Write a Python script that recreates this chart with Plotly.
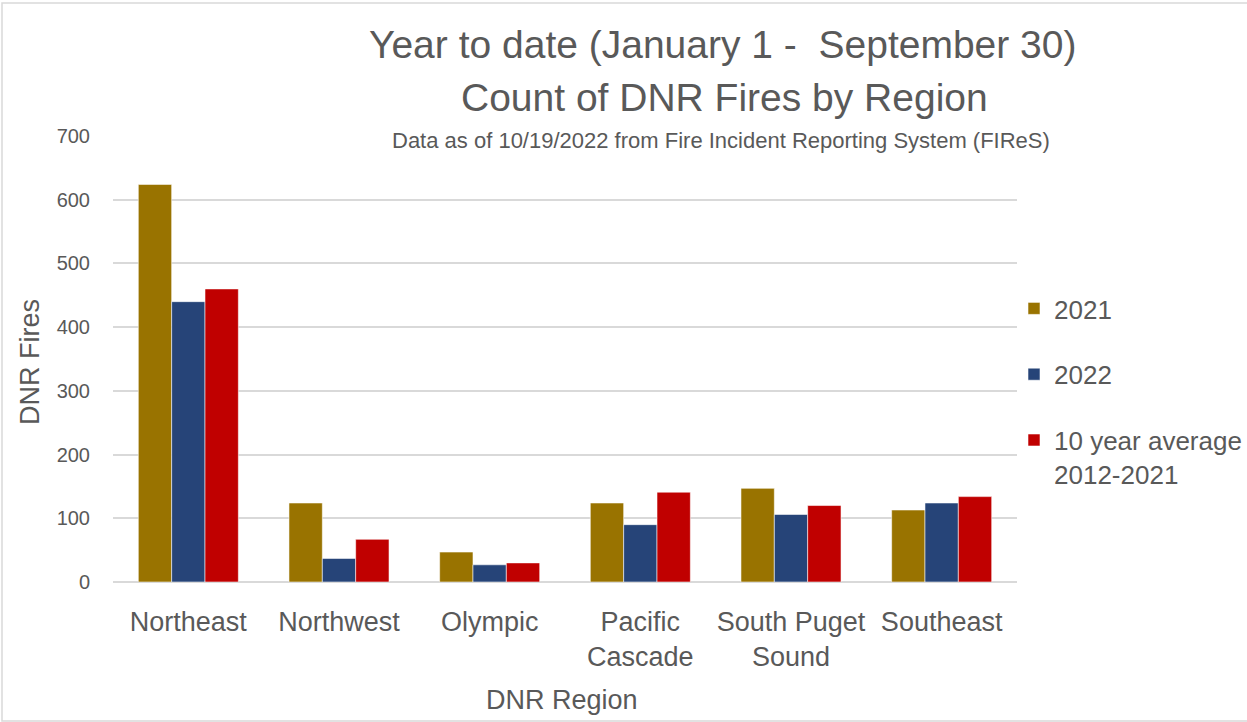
import plotly.graph_objects as go

regions = ["Northeast", "Northwest", "Olympic", "Pacific<br>Cascade", "South Puget<br>Sound", "Southeast"]
series_names = ["2021", "2022", "10 year average<br>2012-2021"]
vals_2021 = [624, 124, 47, 124, 147, 113]
vals_2022 = [440, 37, 27, 90, 106, 124]
vals_avg = [460, 67, 30, 141, 120, 134]
colors = ["#997300", "#264478", "#C00000"]
y_ticks = [0, 100, 200, 300, 400, 500, 600, 700]

FONT = "Liberation Sans, Arial, sans-serif"
TXT = "#595959"

W, H = 1247, 722
L, R, T, B = 113, 230, 136, 140
PW, PH = W - L - R, H - T - B

def px(x):
    return (x - L) / PW

def py(y):
    return (H - B - y) / PH

fig = go.Figure()
for name, vals, col, grp in zip(series_names, [vals_2021, vals_2022, vals_avg], colors, ["a", "b", "c"]):
    fig.add_trace(go.Bar(
        x=regions, y=vals, name=name, legendgroup=grp,
        marker=dict(color=col, line=dict(color="rgba(255,255,255,0.55)", width=1)),
    ))

fig.update_layout(
    width=W, height=H,
    margin=dict(l=L, r=R, t=T, b=B, autoexpand=False),
    paper_bgcolor="white", plot_bgcolor="white",
    barmode="group", bargap=0.336, bargroupgap=0,
    font=dict(family=FONT, color=TXT),
    showlegend=True,
    legend=dict(
        x=px(1014), y=py(285), xanchor="left", yanchor="top",
        font=dict(family=FONT, size=26, color=TXT),
        tracegroupgap=29, valign="top", bgcolor="rgba(0,0,0,0)",
    ),
    xaxis=dict(
        showgrid=False, zeroline=False, showline=False, ticks="", tickangle=0,
        tickfont=dict(family=FONT, size=27, color=TXT), ticklabelstandoff=21,
    ),
    yaxis=dict(
        range=[0, 700], tickvals=y_ticks, showgrid=True, gridcolor="#d9d9d9", gridwidth=1.5,
        zeroline=True, zerolinecolor="#d9d9d9", zerolinewidth=2, showline=False, ticks="",
        tickfont=dict(family=FONT, size=20, color=TXT), ticklabelstandoff=22,
    ),
    shapes=[
        dict(type="rect", xref="paper", yref="paper", x0=px(392), x1=px(1030), y0=py(148), y1=py(127),
             fillcolor="white", line=dict(width=0), layer="above"),
        dict(type="rect", xref="paper", yref="paper", x0=px(2), x1=px(1250), y0=py(721), y1=py(3),
             fillcolor="rgba(0,0,0,0)", line=dict(color="#d9d9d9", width=1.5), layer="above"),
    ],
    annotations=[
        dict(text="Year to date (January 1 -  September 30)", x=px(722), y=py(45), xref="paper", yref="paper",
             xanchor="center", yanchor="middle", showarrow=False, font=dict(family=FONT, size=39, color=TXT)),
        dict(text="Count of DNR Fires by Region", x=px(724), y=py(98), xref="paper", yref="paper",
             xanchor="center", yanchor="middle", showarrow=False, font=dict(family=FONT, size=39, color=TXT)),
        dict(text="Data as of 10/19/2022 from Fire Incident Reporting System (FIReS)", x=px(721), y=py(140),
             xref="paper", yref="paper", xanchor="center", yanchor="middle", showarrow=False,
             font=dict(family=FONT, size=22, color=TXT)),
        dict(text="DNR Fires", x=px(30), y=py(362), xref="paper", yref="paper", textangle=-90,
             xanchor="center", yanchor="middle", showarrow=False, font=dict(family=FONT, size=27, color=TXT)),
        dict(text="DNR Region", x=px(562), y=py(700), xref="paper", yref="paper",
             xanchor="center", yanchor="middle", showarrow=False, font=dict(family=FONT, size=27, color=TXT)),
    ],
)

fig.write_html("out.html", config={"displayModeBar": False},
               post_script="document.body.style.margin='0';")
